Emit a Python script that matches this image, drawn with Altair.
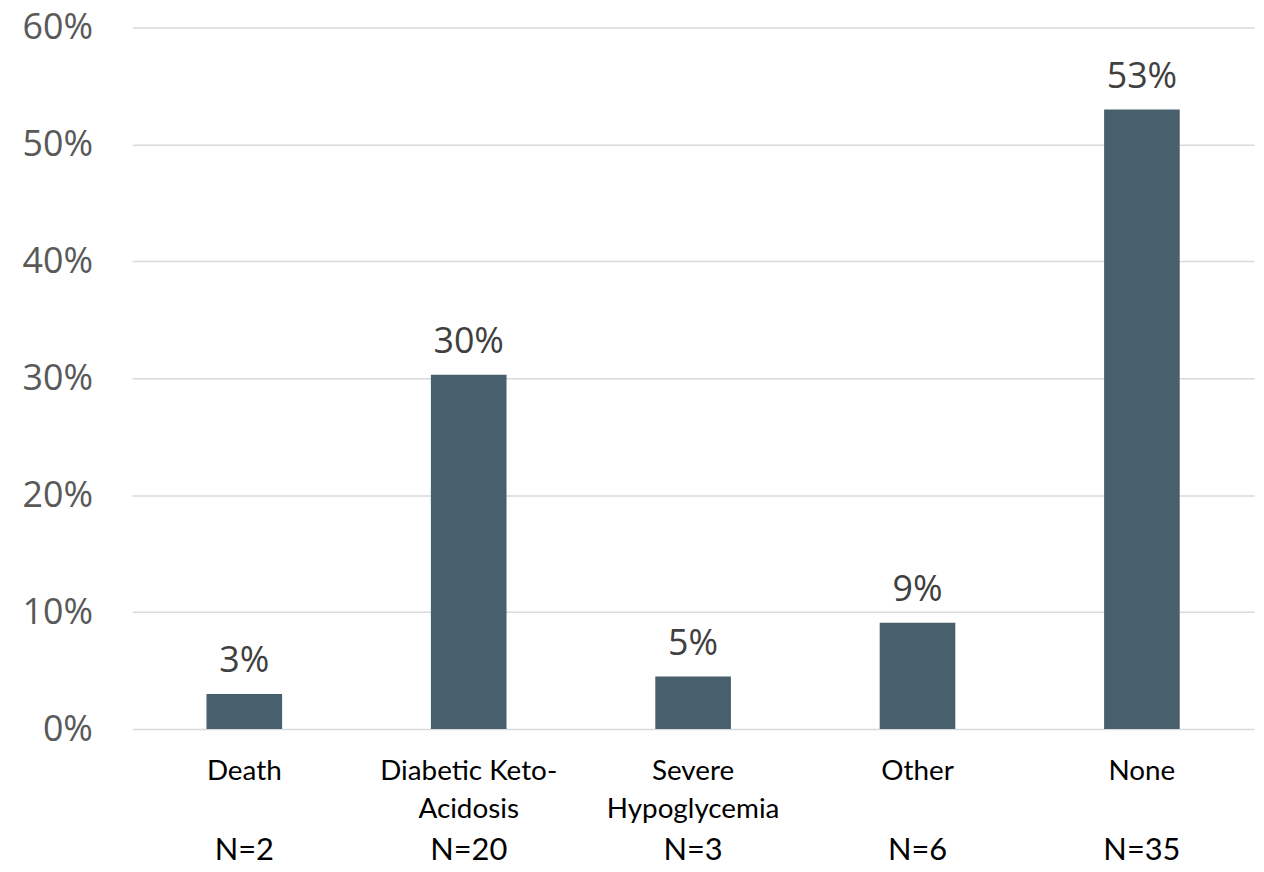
import altair as alt
import pandas as pd

categories = ["Death", "Diabetic Keto-\nAcidosis", "Severe\nHypoglycemia", "Other", "None"]
shares = [0.030, 0.303, 0.045, 0.091, 0.530]
value_labels = ["3%", "30%", "5%", "9%", "53%"]
n_labels = ["N=2", "N=20", "N=3", "N=6", "N=35"]

df = pd.DataFrame({"cat": categories, "share": shares, "lab": value_labels, "n": n_labels})

W, H = 1129, 706

x = alt.X("cat:N", sort=categories, title=None,
          scale=alt.Scale(paddingInner=0.663, paddingOuter=0.331),
          axis=alt.Axis(labelAngle=0, labelFont="Lato", labelFontSize=28, labelColor="#000000",
                        labelExpr="split(datum.label, '\\n')", labelLineHeight=38,
                        labelBaseline="top", labelPadding=29, ticks=False, tickSize=0,
                        domain=False, grid=False))
y = alt.Y("share:Q", title=None,
          scale=alt.Scale(domain=[0, 0.6], nice=False),
          axis=alt.Axis(format=".0%", values=[0, 0.1, 0.2, 0.3, 0.4, 0.5, 0.6],
                        labelFont="Open Sans", labelFontSize=36, labelColor="#595959",
                        labelPadding=40, labelBaseline="middle", ticks=False, domain=False,
                        grid=True, gridColor="#D9D9D9", gridWidth=1.5))

base = alt.Chart(df)
bars = base.mark_bar(color="#485F6D").encode(x=x, y=y)
vals = base.mark_text(font="Open Sans", fontSize=36, color="#404040", baseline="alphabetic", dy=-22).encode(
    x=alt.X("cat:N", sort=categories), y="share:Q", text="lab:N")
ns = base.mark_text(font="Lato", fontSize=31, color="#000000", baseline="alphabetic").encode(
    x=alt.X("cat:N", sort=categories), y=alt.value(H + 132), text="n:N")

chart = (bars + vals + ns).properties(
    width=W, height=H,
    autosize=alt.AutoSizeParams(type="none"),
    padding={"left": 125, "top": 17, "right": 2, "bottom": 133},
    background="#FFFFFF",
).configure_view(stroke=None)

chart.save("out.html", embed_options={"renderer": "svg", "actions": False})
